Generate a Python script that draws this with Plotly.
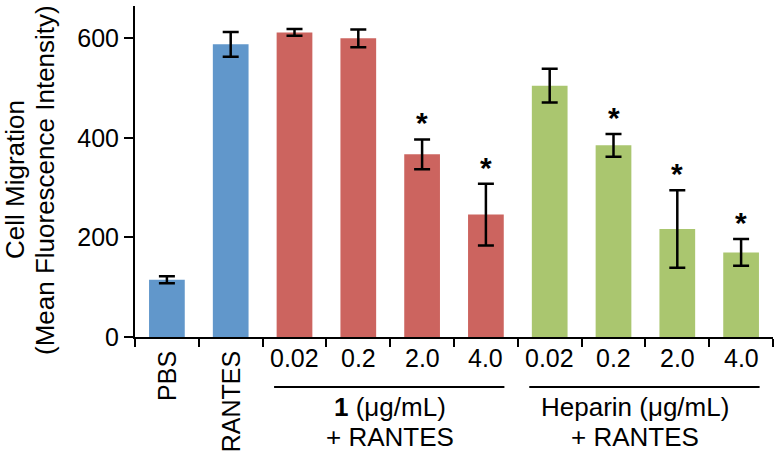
import plotly.graph_objects as go

# ---- data ----
labels = ["PBS", "RANTES", "0.02", "0.2", "2.0", "4.0", "0.02", "0.2", "2.0", "4.0"]
values = [115, 588, 612, 600, 367, 246, 505, 385, 217, 170]
errors = [7, 25, 7, 18, 30, 62, 34, 23, 78, 27]
groups = ["ctrl", "ctrl", "cpd1", "cpd1", "cpd1", "cpd1", "hep", "hep", "hep", "hep"]
significant = [False, False, False, False, True, True, False, True, True, True]
yticks = [0, 200, 400, 600]
group_titles = {"cpd1": ["<b>1</b> (μg/mL)", "+ RANTES"],
                "hep": ["Heparin (μg/mL)", "+ RANTES"]}
y_title = ["Cell Migration", "(Mean Fluorescence Intensity)"]

colors = {"ctrl": "#6197CB", "cpd1": "#CC645F", "hep": "#AAC66F"}
FONT = "Liberation Sans, Arial, sans-serif"
W, H = 776, 452
ML, MR, MT, MB = 135, 3, 6, 115
plot_h = H - MT - MB
plot_w = W - ML - MR
x = list(range(len(labels)))

fig = go.Figure()
fig.add_trace(go.Bar(
    x=x, y=values, width=0.56,
    marker=dict(color=[colors[g] for g in groups], line=dict(width=0)),
    error_y=dict(type="data", array=errors, visible=True, color="black",
                 thickness=2.5, width=8),
    showlegend=False,
))

def py(pix):
    # pixel y (from top of image) -> paper y
    return (H - MB - pix) / plot_h

def px(pix):
    return (pix - ML) / plot_w

annotations = []
# significance stars
for i, (v, e, s) in enumerate(zip(values, errors, significant)):
    if s:
        annotations.append(dict(x=i, y=v + e, xref="x", yref="y", text="<b>*</b>",
                                showarrow=False, yanchor="bottom", yshift=-2,
                                font=dict(size=30, color="black", family=FONT)))
# category labels
for i, lab in enumerate(labels):
    if groups[i] == "ctrl":
        annotations.append(dict(x=i, y=py(349), xref="x", yref="paper", text=lab,
                                textangle=-90, showarrow=False, yanchor="top",
                                xanchor="center",
                                font=dict(size=25, color="black", family=FONT)))
    else:
        annotations.append(dict(x=i, y=py(358), xref="x", yref="paper", text=lab,
                                showarrow=False, yanchor="middle",
                                font=dict(size=25, color="black", family=FONT)))

shapes = []
for g, xc in (("cpd1", 3.5), ("hep", 7.33)):
    idx = [i for i, gg in enumerate(groups) if gg == g]
    shapes.append(dict(type="line", xref="x", yref="paper",
                       x0=idx[0] - 0.32, x1=idx[-1] + 0.29, y0=py(387), y1=py(387),
                       line=dict(color="black", width=2)))
    for k, t in enumerate(group_titles[g]):
        annotations.append(dict(x=xc, y=py(407 + 29.5 * k), xref="x", yref="paper",
                                text=t, showarrow=False, yanchor="middle",
                                font=dict(size=26, color="black", family=FONT)))

# y-axis title, two rotated lines
for k, t in enumerate(y_title):
    annotations.append(dict(x=px(15 + 30 * k), y=py(180), xref="paper", yref="paper",
                            text=t, textangle=-90, showarrow=False,
                            xanchor="center", yanchor="middle",
                            font=dict(size=26, color="black", family=FONT)))

fig.update_layout(
    width=W, height=H,
    margin=dict(l=ML, r=MR, t=MT, b=MB, pad=0),
    plot_bgcolor="white", paper_bgcolor="white",
    font=dict(family=FONT, color="black", size=25),
    xaxis=dict(range=[-0.5, len(labels) - 0.5],
               tickvals=[i - 0.5 for i in range(len(labels) + 1)],
               showticklabels=False, ticks="outside", ticklen=8, tickwidth=2,
               tickcolor="black", showline=True, linewidth=2, linecolor="black",
               showgrid=False, zeroline=False),
    yaxis=dict(range=[0, 665], tickvals=yticks, ticks="outside", ticklen=9,
               tickwidth=2, tickcolor="black", showline=True, linewidth=2,
               linecolor="black", showgrid=False, zeroline=False,
               tickfont=dict(size=25, color="black", family=FONT)),
    annotations=annotations,
    shapes=shapes,
    bargap=0.44,
)

fig.write_html("out.html", config={"displayModeBar": False},
               post_script="document.body.style.margin='0';document.body.style.overflow='hidden';")
